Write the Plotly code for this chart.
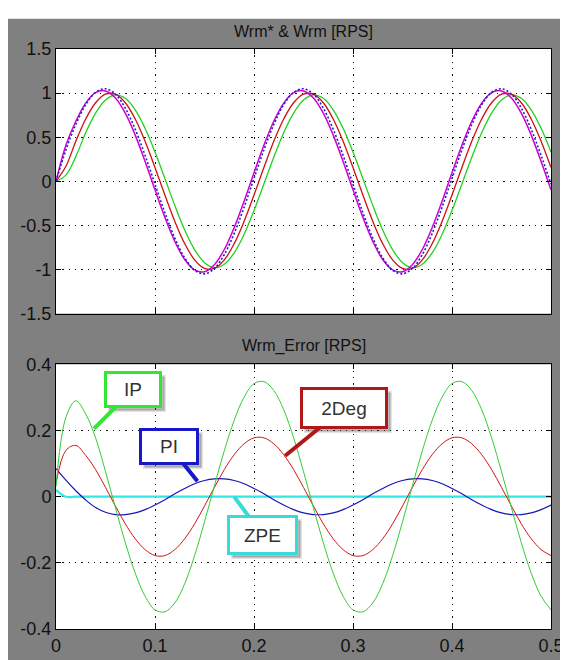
import plotly.graph_objects as go
from plotly.subplots import make_subplots

# ---------------- data ----------------
t = [0.00, 0.01, 0.02, 0.03, 0.04, 0.05, 0.06, 0.07, 0.08, 0.09,
     0.10, 0.11, 0.12, 0.13, 0.14, 0.15, 0.16, 0.17, 0.18, 0.19,
     0.20, 0.21, 0.22, 0.23, 0.24, 0.25, 0.26, 0.27, 0.28, 0.29,
     0.30, 0.31, 0.32, 0.33, 0.34, 0.35, 0.36, 0.37, 0.38, 0.39,
     0.40, 0.41, 0.42, 0.43, 0.44, 0.45, 0.46, 0.47, 0.48, 0.49, 0.50]

# top panel: Wrm* & Wrm [RPS]
wrm_magenta = [0.0, 0.409, 0.681, 0.887, 1.005, 1.025, 0.945, 0.773, 0.524, 0.225,
               -0.097, -0.409, -0.681, -0.887, -1.005, -1.025, -0.945, -0.773, -0.524, -0.225,
               0.097, 0.409, 0.681, 0.887, 1.005, 1.025, 0.945, 0.773, 0.524, 0.225,
               -0.097, -0.409, -0.681, -0.887, -1.005, -1.025, -0.945, -0.773, -0.524, -0.225,
               0.097, 0.409, 0.681, 0.887, 1.005, 1.025, 0.945, 0.773, 0.524, 0.225, -0.097]
wrm_blue = [0.0, 0.356, 0.644, 0.868, 1.008, 1.049, 0.988, 0.830, 0.590, 0.293,
            -0.033, -0.356, -0.644, -0.868, -1.008, -1.049, -0.988, -0.830, -0.590, -0.293,
            0.033, 0.356, 0.644, 0.868, 1.008, 1.049, 0.988, 0.830, 0.590, 0.293,
            -0.033, -0.356, -0.644, -0.868, -1.008, -1.049, -0.988, -0.830, -0.590, -0.293,
            0.033, 0.356, 0.644, 0.868, 1.008, 1.049, 0.988, 0.830, 0.590, 0.293, -0.033]
wrm_red = [0.0, 0.17, 0.454, 0.707, 0.891, 0.988, 0.988, 0.891, 0.707, 0.454,
           0.156, -0.156, -0.454, -0.707, -0.891, -0.988, -0.988, -0.891, -0.707, -0.454,
           -0.156, 0.156, 0.454, 0.707, 0.891, 0.988, 0.988, 0.891, 0.707, 0.454,
           0.156, -0.156, -0.454, -0.707, -0.891, -0.988, -0.988, -0.891, -0.707, -0.454,
           -0.156, 0.156, 0.454, 0.707, 0.891, 0.988, 0.988, 0.891, 0.707, 0.454, 0.156]
wrm_green = [0.0, 0.07, 0.28, 0.551, 0.774, 0.922, 0.980, 0.941, 0.811, 0.601,
             0.332, 0.031, -0.273, -0.551, -0.774, -0.922, -0.980, -0.941, -0.811, -0.601,
             -0.332, -0.031, 0.273, 0.551, 0.774, 0.922, 0.980, 0.941, 0.811, 0.601,
             0.332, 0.031, -0.273, -0.551, -0.774, -0.922, -0.980, -0.941, -0.811, -0.601,
             -0.332, -0.031, 0.273, 0.551, 0.774, 0.922, 0.980, 0.941, 0.811, 0.601, 0.332]

# bottom panel: Wrm_Error [RPS]
err_ip = [0.03, 0.24, 0.29, 0.25, 0.178, 0.076, -0.033, -0.139, -0.231, -0.301,
          -0.342, -0.348, -0.321, -0.263, -0.178, -0.076, 0.033, 0.139, 0.231, 0.301,
          0.342, 0.348, 0.321, 0.263, 0.178, 0.076, -0.033, -0.139, -0.231, -0.301,
          -0.342, -0.348, -0.321, -0.263, -0.178, -0.076, 0.033, 0.139, 0.231, 0.301,
          0.342, 0.348, 0.321, 0.263, 0.178, 0.076, -0.033, -0.139, -0.231, -0.301, -0.342]
err_2deg = [0.04, 0.14, 0.155, 0.125, 0.082, 0.028, -0.028, -0.082, -0.127, -0.160,
            -0.178, -0.178, -0.160, -0.127, -0.082, -0.028, 0.028, 0.082, 0.127, 0.160,
            0.178, 0.178, 0.160, 0.127, 0.082, 0.028, -0.028, -0.082, -0.127, -0.160,
            -0.178, -0.178, -0.160, -0.127, -0.082, -0.028, 0.028, 0.082, 0.127, 0.160,
            0.178, 0.178, 0.160, 0.127, 0.082, 0.028, -0.028, -0.082, -0.127, -0.160, -0.178]
err_pi = [0.085, 0.05, 0.018, -0.01, -0.033, -0.047, -0.054, -0.054, -0.049, -0.039,
          -0.025, -0.009, 0.009, 0.025, 0.039, 0.049, 0.054, 0.054, 0.049, 0.039,
          0.025, 0.009, -0.009, -0.025, -0.039, -0.049, -0.054, -0.054, -0.049, -0.039,
          -0.025, -0.009, 0.009, 0.025, 0.039, 0.049, 0.054, 0.054, 0.049, 0.039,
          0.025, 0.009, -0.009, -0.025, -0.039, -0.049, -0.054, -0.054, -0.049, -0.039, -0.025]
err_zpe = [0.02] + [0.0] * 50

# tick labels
x_ticks = [0, 0.1, 0.2, 0.3, 0.4, 0.5]
x_ticklabels = ["0", "0.1", "0.2", "0.3", "0.4", "0.5"]
y1_ticks = [1.5, 1, 0.5, 0, -0.5, -1, -1.5]
y1_ticklabels = ["1.5", "1", "0.5", "0", "-0.5", "-1", "-1.5"]
y2_ticks = [0.4, 0.2, 0, -0.2, -0.4]
y2_ticklabels = ["0.4", "0.2", "0", "-0.2", "-0.4"]

titles = ["Wrm* & Wrm [RPS]", "Wrm_Error [RPS]"]

# ---------------- figure ----------------
W, H = 568, 660
ML, MR, MT, MB = 45, 15, 41, 25
PW, PH = W - ML - MR, H - MT - MB

fig = make_subplots(rows=2, cols=1)

FONT = "Liberation Sans, Arial, sans-serif"


def add_line(y, color, width, row, dash="solid"):
    fig.add_trace(go.Scatter(x=t, y=y, mode="lines",
                             line=dict(color=color, width=width, shape="spline",
                                       smoothing=1.0, dash=dash),
                             showlegend=False, hoverinfo="skip"), row=row, col=1)


add_line(wrm_green, "#22d022", 1.3, 1)
add_line(wrm_red, "#d01010", 1.3, 1)
add_line(wrm_magenta, "#d000d0", 1.5, 1)
add_line(wrm_blue, "#2020d0", 1.6, 1, dash="2px,2px")

add_line(err_zpe, "#30e8e8", 2.2, 2)
add_line(err_pi, "#1515b8", 1.2, 2)
add_line(err_2deg, "#d01515", 1.0, 2)
add_line(err_ip, "#33cc33", 1.0, 2)

axis_common = dict(
    showline=True, linecolor="black", linewidth=1, mirror="allticks",
    ticks="inside", ticklen=5, tickcolor="black",
    showgrid=True, gridcolor="#111111", gridwidth=1.3, griddash="1.3px,5px",
    zeroline=False,
    tickfont=dict(family=FONT, size=18, color="#111111"),
)

top_dom = [(H - MB - 312) / PH, 1.0]
bot_dom = [0.0, (H - MB - 364) / PH]

fig.update_layout(
    width=W, height=H,
    margin=dict(l=ML, r=MR, t=MT, b=MB),
    paper_bgcolor="#808080",
    plot_bgcolor="white",
    xaxis=dict(axis_common, range=[0, 0.5], tickvals=x_ticks, ticktext=x_ticklabels,
               showticklabels=False),
    xaxis2=dict(axis_common, range=[0, 0.5], tickvals=x_ticks, ticktext=x_ticklabels),
    yaxis=dict(axis_common, range=[-1.5, 1.5], tickvals=y1_ticks, ticktext=y1_ticklabels,
               domain=top_dom),
    yaxis2=dict(axis_common, range=[-0.4, 0.4], tickvals=y2_ticks, ticktext=y2_ticklabels,
                domain=bot_dom),
)

# white strip on top of the window
fig.add_shape(type="rect", xref="paper", yref="paper",
              x0=-ML / PW - 0.01, x1=1 + MR / PW + 0.01,
              y0=1 + (MT - 10) / PH, y1=1 + MT / PH + 0.01,
              fillcolor="white", line=dict(width=0), layer="below")

# panel titles
fig.add_annotation(text=titles[0], xref="paper", yref="paper", x=0.5,
                   y=(H - MB - 23) / PH, showarrow=False, yanchor="middle",
                   font=dict(family=FONT, size=16, color="#111111"))
fig.add_annotation(text=titles[1], xref="paper", yref="paper", x=0.5,
                   y=(H - MB - 345) / PH, showarrow=False, yanchor="middle",
                   font=dict(family=FONT, size=16, color="#111111"))

# callouts (with soft drop shadows)
callouts = [
    ("IP", 0.0384, 0.206, 39, -39, "#33e633", 48, 27),
    ("PI", 0.1429, 0.047, -28, -35, "#1818c8", 50, 27),
    ("2Deg", 0.2315, 0.124, 59, -48, "#b01818", 78, 32),
    ("ZPE", 0.180, 0.0, 28, 38, "#38dada", 61, 30),
]
for txt, cx, cy, ax, ay, col, bw, bh in callouts:
    fig.add_annotation(x=cx, y=cy, xref="x2", yref="y2", text="&nbsp;",
                       showarrow=False, xshift=ax + 4, yshift=-ay - 4,
                       bgcolor="rgba(60,60,60,0.35)", bordercolor="rgba(60,60,60,0.15)",
                       borderwidth=3, borderpad=2, width=bw, height=bh,
                       font=dict(family=FONT, size=19, color="rgba(0,0,0,0)"))
for txt, cx, cy, ax, ay, col, bw, bh in callouts:
    fig.add_annotation(x=cx, y=cy, xref="x2", yref="y2", text=txt,
                       showarrow=True, ax=ax, ay=ay, arrowhead=0, arrowwidth=4,
                       arrowcolor=col, standoff=0,
                       bgcolor="white", bordercolor=col, borderwidth=3, borderpad=2,
                       width=bw, height=bh,
                       font=dict(family=FONT, size=19, color="#333333"))

fig.write_html("out.html")
